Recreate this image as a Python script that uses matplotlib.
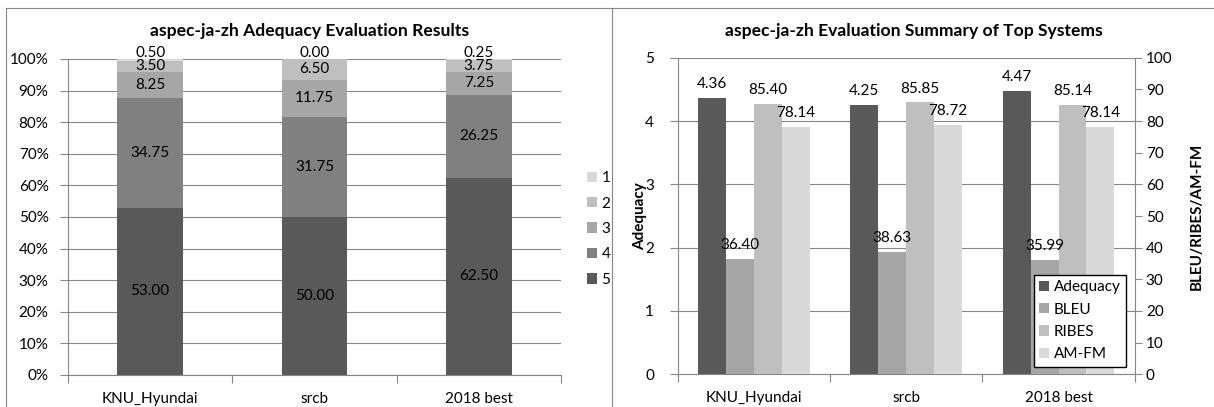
"""
Rebuilds the two aspec-ja-zh summary charts side by side: a 100% stacked
bar of adequacy score shares, and a grouped bar of Adequacy (left axis)
against BLEU / RIBES / AM-FM (right axis).
"""
import matplotlib
matplotlib.use("Agg")
import matplotlib.pyplot as plt
import numpy as np
from matplotlib.lines import Line2D
from matplotlib.ticker import FixedLocator, PercentFormatter

plt.rcParams['font.family'] = ['Lato', 'DejaVu Sans']

SYSTEMS = ["KNU_Hyundai", "srcb", "2018 best"]

# share of each adequacy score (percent), stacked 5 at the bottom up to 1
SCORE_LABELS = ["5", "4", "3", "2", "1"]
SCORE_5 = [53.00, 50.00, 62.50]
SCORE_4 = [34.75, 31.75, 26.25]
SCORE_3 = [8.25, 11.75, 7.25]
SCORE_2 = [3.50, 6.50, 3.75]
SCORE_1 = [0.50, 0.00, 0.25]

# summary metrics
METRIC_NAMES = ["Adequacy", "BLEU", "RIBES", "AM-FM"]
ADEQUACY = [4.36, 4.25, 4.47]
BLEU = [36.40, 38.63, 35.99]
RIBES = [85.40, 85.85, 85.14]
AMFM = [78.14, 78.72, 78.14]

SCORE_COLORS = ["#595959", "#808080", "#a6a6a6", "#bfbfbf", "#d9d9d9"]
METRIC_COLORS = ["#595959", "#a6a6a6", "#bfbfbf", "#d9d9d9"]
LINE_GRAY = "#868686"
FS = 11
W, H = 1214, 407


def style_category_axis(ax):
    n = len(SYSTEMS)
    ax.set_xlim(-0.5, n - 0.5)
    ax.set_xticks(np.arange(n))
    ax.set_xticklabels(SYSTEMS, fontsize=FS)
    ax.xaxis.set_minor_locator(FixedLocator(np.arange(n + 1) - 0.5))
    ax.tick_params(axis='x', which='major', length=0, pad=12)
    ax.tick_params(axis='x', which='minor', length=6, width=0.8, color=LINE_GRAY)
    for side in ('top', 'right'):
        ax.spines[side].set_visible(False)
    for side in ('left', 'bottom'):
        ax.spines[side].set_color(LINE_GRAY)
        ax.spines[side].set_linewidth(0.8)
    ax.yaxis.grid(True, color=LINE_GRAY, linewidth=0.8)
    ax.set_axisbelow(True)


fig = plt.figure(figsize=(W / 100, H / 100), dpi=100)

# ---- left: stacked adequacy shares ----
ax1 = fig.add_axes([68 / W, 1 - 375 / H, 493 / W, 316 / H])
x = np.arange(len(SYSTEMS))
series = [SCORE_5, SCORE_4, SCORE_3, SCORE_2, SCORE_1]
bottom = np.zeros(len(SYSTEMS))
containers = []
for vals, lab, col in zip(series, SCORE_LABELS, SCORE_COLORS):
    c = ax1.bar(x, vals, width=0.40, bottom=bottom, color=col, label=lab, zorder=2)
    containers.append(c)
    bottom = bottom + np.array(vals)
for c, vals in zip(containers[:-1], series[:-1]):
    ax1.bar_label(c, labels=[f"{v:.2f}" for v in vals], label_type='center', fontsize=FS)
ax1.bar_label(containers[-1], labels=[f"{v:.2f}" for v in SCORE_1],
              label_type='edge', padding=-1, fontsize=FS)

style_category_axis(ax1)
ax1.set_ylim(0, 100)
ax1.set_yticks(np.arange(0, 101, 10))
ax1.yaxis.set_major_formatter(PercentFormatter(100, decimals=0))
ax1.tick_params(axis='y', length=6, width=0.8, color=LINE_GRAY, pad=8, labelsize=FS)

handles, labels = ax1.get_legend_handles_labels()
fig.legend(handles[::-1], labels[::-1], loc='center left',
           bbox_to_anchor=(579 / W, 1 - 229 / H), frameon=False, fontsize=FS,
           borderpad=0, handlelength=0.67, handleheight=0.67,
           handletextpad=0.3, labelspacing=0.75)

fig.text(309.5 / W, 1 - 30.7 / H, "aspec-ja-zh Adequacy Evaluation Results",
         ha='center', va='center', fontsize=12.6, fontweight='bold')

# ---- right: metric summary with twin axes ----
ax2 = fig.add_axes([677.7 / W, 1 - 374.3 / H, 457 / W, 316.6 / H])
ax3 = ax2.twinx()
bw = 0.183
b_adq = ax2.bar(x - 1.5 * bw, ADEQUACY, width=bw, color=METRIC_COLORS[0],
                label=METRIC_NAMES[0], zorder=2)
b_bleu = ax3.bar(x - 0.5 * bw, BLEU, width=bw, color=METRIC_COLORS[1], label=METRIC_NAMES[1])
b_ribes = ax3.bar(x + 0.5 * bw, RIBES, width=bw, color=METRIC_COLORS[2], label=METRIC_NAMES[2])
b_amfm = ax3.bar(x + 1.5 * bw, AMFM, width=bw, color=METRIC_COLORS[3], label=METRIC_NAMES[3])
ax2.bar_label(b_adq, fmt='%.2f', padding=5, fontsize=FS)
for c in (b_bleu, b_ribes, b_amfm):
    ax3.bar_label(c, fmt='%.2f', padding=5, fontsize=FS)

style_category_axis(ax2)
ax2.set_ylim(0, 5)
ax2.set_yticks(np.arange(0, 6, 1))
ax2.tick_params(axis='y', length=6, width=0.8, color=LINE_GRAY, pad=11, labelsize=FS)
ax2.set_ylabel("Adequacy", fontsize=FS, fontweight='bold')
ax2.yaxis.set_label_coords(-0.068, 0.5)

ax3.set_ylim(0, 100)
ax3.set_yticks(np.arange(0, 101, 10))
ax3.tick_params(axis='y', length=5, width=0.8, color=LINE_GRAY, pad=3, labelsize=FS)
for side in ('top', 'left', 'bottom'):
    ax3.spines[side].set_visible(False)
ax3.spines['right'].set_color(LINE_GRAY)
ax3.spines['right'].set_linewidth(0.8)
ax3.set_ylabel("BLEU/RIBES/AM-FM", fontsize=FS, fontweight='bold')
ax3.yaxis.set_label_coords(1.12, 0.5)

ax3.legend([b_adq, b_bleu, b_ribes, b_amfm], METRIC_NAMES, loc='lower right',
           bbox_to_anchor=(1126 / W, 1 - 366.7 / H), bbox_transform=fig.transFigure,
           borderaxespad=0, fontsize=FS, fancybox=False, framealpha=1,
           edgecolor='black', handlelength=0.67, handleheight=0.67,
           handletextpad=0.3, labelspacing=0.55, borderpad=0.35)

fig.text(913.5 / W, 1 - 30.7 / H, "aspec-ja-zh Evaluation Summary of Top Systems",
         ha='center', va='center', fontsize=12.6, fontweight='bold')

# panel borders like the spreadsheet chart frames
for xs, ys in (([6, W], [8, 8]), ([6, 6], [8, H]), ([612, 612], [8, H])):
    fig.add_artist(Line2D([v / W for v in xs], [1 - v / H for v in ys],
                          transform=fig.transFigure, color=LINE_GRAY, linewidth=0.8))

fig.savefig("out.png", dpi=100)
